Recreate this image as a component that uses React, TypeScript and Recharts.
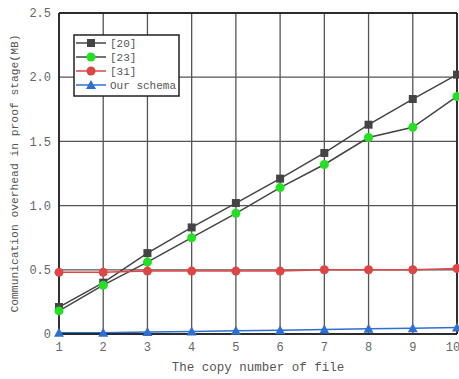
import React from "react";
import {
  LineChart,
  Line,
  XAxis,
  YAxis,
  CartesianGrid,
  ReferenceLine,
  Label,
} from "recharts";

const copies = [1, 2, 3, 4, 5, 6, 7, 8, 9, 10];
const ref20 = [0.21, 0.4, 0.63, 0.83, 1.02, 1.21, 1.41, 1.63, 1.83, 2.02];
const ref23 = [0.18, 0.38, 0.56, 0.75, 0.94, 1.14, 1.32, 1.53, 1.61, 1.85];
const ref31 = [0.48, 0.48, 0.49, 0.49, 0.49, 0.49, 0.5, 0.5, 0.5, 0.51];
const ours = [0.01, 0.01, 0.015, 0.02, 0.025, 0.03, 0.035, 0.04, 0.045, 0.05];
const yTicks = [0, 0.5, 1, 1.5, 2, 2.5];

const FONT = "'Liberation Mono', monospace";

const data = copies.map((c, i) => ({
  copy: c,
  r20: ref20[i],
  r23: ref23[i],
  r31: ref31[i],
  ours: ours[i],
}));

const SERIES = [
  { key: "r20", name: "[20]", line: "#444", mark: "#444", shape: "square" },
  { key: "r23", name: "[23]", line: "#444", mark: "#22e022", shape: "circle" },
  { key: "r31", name: "[31]", line: "#e04545", mark: "#e04545", shape: "circle" },
  { key: "ours", name: "Our schema", line: "#2f6fd0", mark: "#2f6fd0", shape: "triangle" },
];

const Marker = ({ cx, cy, shape, color }: any) => {
  if (cx == null || cy == null) return null;
  if (shape === "square")
    return <rect x={cx - 4} y={cy - 4} width={8} height={8} fill={color} />;
  if (shape === "triangle")
    return (
      <polygon
        points={`${cx},${cy - 5} ${cx - 5},${cy + 4} ${cx + 5},${cy + 4}`}
        fill={color}
      />
    );
  return <circle cx={cx} cy={cy} r={4.5} fill={color} />;
};

// legend sits inside the plot, drawn as an overlay
const LegendBox = () => (
  <svg width={108} height={64} style={{ position: "absolute", left: 73, top: 34 }}>
    <rect x={1} y={1} width={105} height={61} fill="#fff" stroke="#222" strokeWidth={1.5} />
    {SERIES.map((s, i) => {
      const y = 9 + i * 14;
      return (
        <g key={s.key}>
          <line x1={3} x2={33} y1={y} y2={y} stroke={s.line} strokeWidth={1.5} />
          <Marker cx={18} cy={y} shape={s.shape} color={s.mark} />
          <text x={37} y={y + 4} fontSize={11} fontFamily={FONT} fill="#555">
            {s.name}
          </text>
        </g>
      );
    })}
  </svg>
);

export default function App() {
  return (
    <div style={{ position: "absolute", left: 0, top: 0, background: "#fff" }}>
      <LineChart
        width={459}
        height={379}
        data={data}
        margin={{ top: 13, right: 2, bottom: 0, left: 0 }}
      >
        <CartesianGrid stroke="#555" strokeWidth={1.3} />
        <XAxis
          dataKey="copy"
          type="number"
          domain={[1, 10]}
          ticks={copies}
          height={45}
          tickLine={false}
          axisLine={{ stroke: "#111", strokeWidth: 1.5 }}
          tick={{ fontSize: 12, fontFamily: FONT, fill: "#666" }}
        >
          <Label
            value="The copy number of file"
            position="insideBottom"
            offset={8}
            style={{ fontSize: 12.5, fontFamily: FONT, fill: "#555" }}
          />
        </XAxis>
        <YAxis
          type="number"
          domain={[0, 2.5]}
          ticks={yTicks}
          width={59}
          tickLine={false}
          axisLine={{ stroke: "#111", strokeWidth: 1.5 }}
          tickFormatter={(v: number) => (v === 0 ? "0" : v.toFixed(1))}
          tick={{ fontSize: 12, fontFamily: FONT, fill: "#666" }}
        >
          <Label
            value="Communication overhead in proof stage(MB)"
            angle={-90}
            position="insideLeft"
            offset={14}
            style={{ fontSize: 11.3, fontFamily: FONT, fill: "#555", textAnchor: "middle" }}
          />
        </YAxis>
        <ReferenceLine y={2.5} stroke="#111" strokeWidth={1.5} />
        <ReferenceLine x={10} stroke="#111" strokeWidth={1.5} />
        {SERIES.map((s) => (
          <Line
            key={s.key}
            dataKey={s.key}
            name={s.name}
            stroke={s.line}
            strokeWidth={1.5}
            isAnimationActive={false}
            dot={(p: any) => (
              <Marker key={`${s.key}-${p.index}`} cx={p.cx} cy={p.cy} shape={s.shape} color={s.mark} />
            )}
            activeDot={false}
          />
        ))}
      </LineChart>
      <LegendBox />
    </div>
  );
}
